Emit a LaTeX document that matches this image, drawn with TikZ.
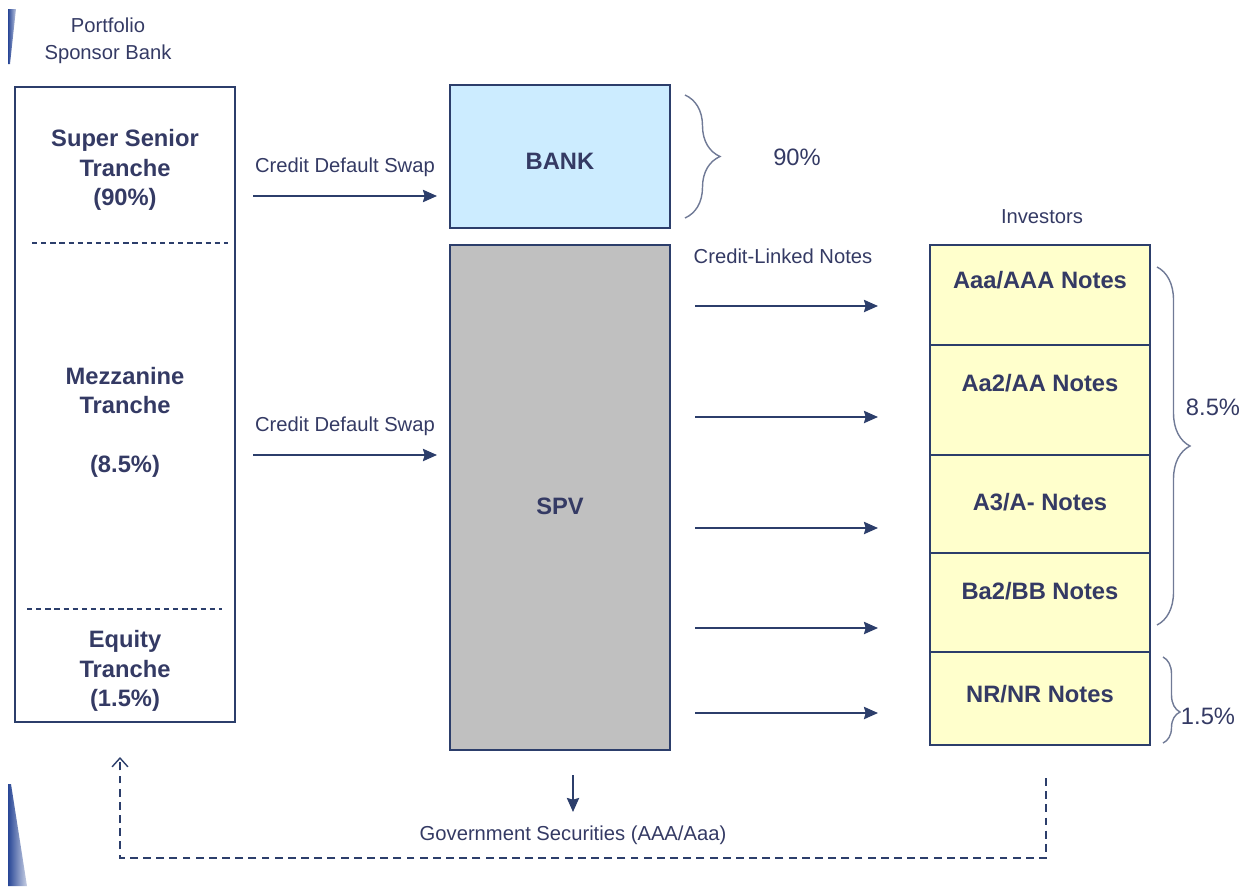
\documentclass[tikz,border=0pt]{standalone}
\usepackage{fontspec}
\setmainfont{Liberation Sans}
\usetikzlibrary{positioning,decorations.pathreplacing,arrows.meta}

\definecolor{navy}{RGB}{44,62,107}
\definecolor{inktext}{RGB}{52,58,100}
\definecolor{bankblue}{RGB}{204,236,255}
\definecolor{spvgray}{RGB}{192,192,192}
\definecolor{noteyellow}{RGB}{255,255,204}
\definecolor{bracegray}{RGB}{112,122,150}
\definecolor{stripe}{RGB}{40,70,150}

\tikzset{
  box/.style = {draw=navy, line width=1pt, inner sep=0pt, outer sep=0pt},
  big/.style = {font=\fontsize{13.5}{16.7}\selectfont\bfseries, text=inktext, align=center},
  small/.style = {font=\fontsize{11.5}{15.3}\selectfont, text=inktext, align=center},
  pct/.style = {font=\fontsize{13.5}{16}\selectfont, text=inktext},
  cell/.style = {box, fill=noteyellow, minimum width=4.4cm, minimum height=#1, big, text height=9.8pt},
  flow/.style = {draw=navy, line width=1.1pt, -{Stealth[length=8pt, width=7pt, inset=1pt]}},
  sep/.style = {draw=navy, line width=0.8pt, dash pattern=on 3pt off 2.2pt},
  back/.style = {draw=navy, line width=0.8pt, dash pattern=on 4.5pt off 3pt, -{Straight Barb[length=5pt, width=9pt]}},
  brc/.style = {draw=bracegray, line width=0.8pt, decorate, decoration={brace, amplitude=#1}},
}

\begin{document}
\begin{tikzpicture}[x=0.02cm, y=-0.02cm]
  \useasboundingbox (0,0) rectangle (1251,886);

  % slide edge
  \shade[left color=stripe, right color=stripe!30] (8,9) -- (16,9) -- (10,64) -- (8,64) -- cycle;
  \shade[left color=stripe, right color=stripe!25] (8,784) -- (11,784) -- (27,886) -- (8,886) -- cycle;

  % sponsor bank
  \node[small] (portfolio) at (108,41) {Portfolio\\Sponsor Bank};
  \node[box, anchor=north west, minimum width=4.4cm, minimum height=12.7cm] (sponsor) at (15,87) {};
  \node[big] (senior) at (125,170) {Super Senior\\Tranche\\(90\%)};
  \node[big] (mezz) at (125,422) {Mezzanine\\Tranche\\[16.7pt](8.5\%)};
  \node[big] (equity) at (125,671) {Equity\\Tranche\\(1.5\%)};
  \draw[sep] (32,243) -- (228,243);
  \draw[sep] (27,609) -- (222,609);

  % bank and spv
  \node[box, big, fill=bankblue, anchor=north west, minimum width=4.4cm, minimum height=2.86cm,
        text height=14.3pt, text depth=0pt] (bank) at (450,85) {BANK};
  \node[box, big, fill=spvgray, anchor=north west, minimum width=4.4cm, minimum height=10.1cm,
        text height=18.9pt, text depth=0pt] (spv) at (450,245) {SPV};

  % investors
  \node[small] (investors) at (1042,217) {Investors};
  \node[cell=2cm, anchor=north west, text depth=17pt] (aaa) at (930,245) {Aaa/AAA Notes};
  \node[cell=2.2cm, below=0pt of aaa, text depth=19pt] (aa) {Aa2/AA Notes};
  \node[cell=1.96cm, below=0pt of aa, text depth=2pt] (a3) {A3/A- Notes};
  \node[cell=1.98cm, below=0pt of a3, text depth=13.6pt] (ba) {Ba2/BB Notes};
  \node[cell=1.86cm, below=0pt of ba, text depth=5.5pt] (nr) {NR/NR Notes};

  % swaps
  \coordinate (cds1a) at (253,196);
  \coordinate (cds1b) at (437,196);
  \coordinate (cds2a) at (253,455);
  \coordinate (cds2b) at (437,455);
  \path
    (cds1a) edge[flow] node[small, above=7pt] {Credit Default Swap} (cds1b)
    (cds2a) edge[flow] node[small, above=7pt] {Credit Default Swap} (cds2b);

  % notes
  \node[small] (cln) at (783,256) {Credit-Linked Notes};
  \foreach \y/\n in {306/1, 417/2, 528/3, 628/4, 713/5} {
    \coordinate (out\n) at (695,\y);
    \coordinate (in\n) at (878,\y);
    \draw[flow] (out\n) -- (in\n);
  }

  % government securities
  \coordinate (gova) at (573,775);
  \node[small] (gov) at (573,835) {Government Securities (AAA/Aaa)};
  \draw[flow] (gova) -- (573,812);

  % return leg
  \coordinate (reta) at (1046,778);
  \coordinate (retc) at (120,858);
  \coordinate (retb) at (120,757);
  \draw[back] (reta) |- (retc) -- (retb);

  % braces
  \draw[brc=0.7cm] (685,95) -- (685,218);
  \node[pct] (p90) at (797,157) {90\%};
  \draw[brc=0.66cm] (1157,267) -- (1157,625);
  \node[pct] (p85) at (1213,407) {8.5\%};
  \draw[brc=0.34cm, decoration={aspect=0.64}] (1163,657) -- (1163,743);
  \node[pct] (p15) at (1208,716) {1.5\%};
\end{tikzpicture}
\end{document}
